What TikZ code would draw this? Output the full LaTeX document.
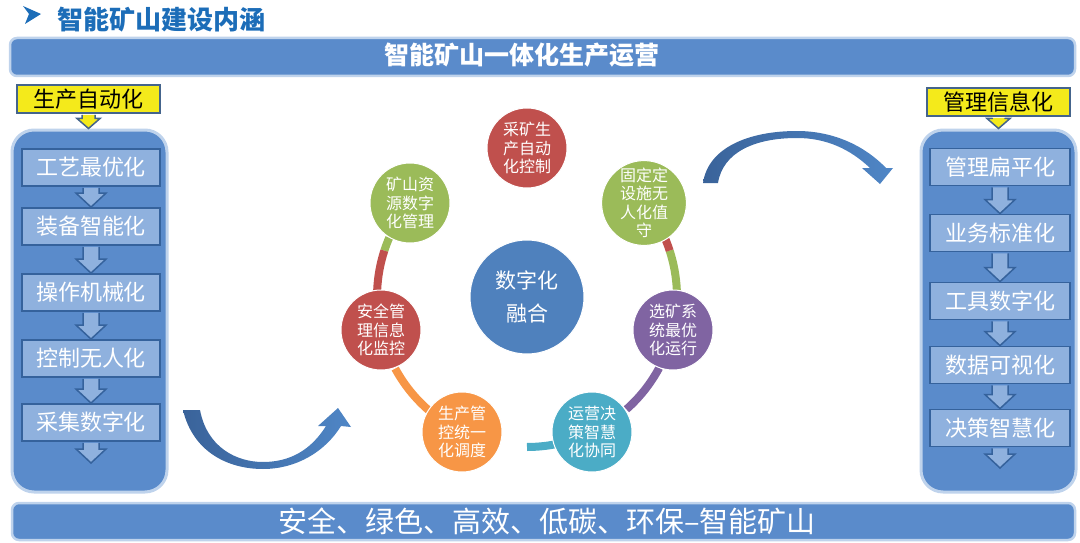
\documentclass[tikz,border=0pt]{standalone}
\usepackage{fontspec}
\setmainfont{Noto Sans CJK SC}
\usetikzlibrary{calc}
\definecolor{titleblue}{HTML}{1C6DB8}
\definecolor{bannerfill}{HTML}{5A8BCB}
\definecolor{bannerline}{HTML}{BFD3EC}
\definecolor{boxfill}{HTML}{8FB1DE}
\definecolor{boxline}{HTML}{35629C}
\definecolor{labelyellow}{HTML}{F4EA1B}
\definecolor{labelline}{HTML}{44648C}
\definecolor{cred}{HTML}{C0504D}
\definecolor{cgreen}{HTML}{9BBB59}
\definecolor{cpurple}{HTML}{8064A2}
\definecolor{cteal}{HTML}{4BACC6}
\definecolor{corange}{HTML}{F79646}
\definecolor{cblue}{HTML}{4F81BD}
\definecolor{arrdark}{HTML}{3A639A}
\definecolor{arrlight}{HTML}{4F86C6}
% #1 top node, #2 tip coordinate, #3 style, #4 shaft half width, #5 head half width, #6 head length
\newcommand\blockarrow[6]{%
  \path[#3] let \p1=(#1.south), \p2=(#2) in
    (\x1-#4pt,\y1-1pt) -- (\x1-#4pt,\y2+#6pt) -- (\x1-#5pt,\y2+#6pt) -- (\x1,\y2)
    -- (\x1+#5pt,\y2+#6pt) -- (\x1+#4pt,\y2+#6pt) -- (\x1+#4pt,\y1-1pt);}
\begin{document}
\begin{tikzpicture}[x=1pt,y=-1pt,
  banner/.style={draw=bannerline, line width=2.5pt, fill=bannerfill, rounded corners=7pt, inner sep=0pt},
  bannertext/.style={text=white, inner sep=0pt},
  panel/.style={draw=bannerline, line width=3pt, fill=bannerfill, rounded corners=22pt, inner sep=0pt, minimum width=155pt, minimum height=362pt},
  stepbox/.style={fill=boxfill, draw=boxline, line width=1.8pt, inner sep=0pt, minimum height=37pt, text=white, font=\fontsize{22}{22}\selectfont},
  ylabel/.style={fill=labelyellow, draw=labelline, line width=2pt, inner sep=0pt, minimum width=143pt, minimum height=28pt, font=\fontsize{22}{22}\selectfont},
  steparrow/.style={fill=boxfill, draw=boxline, line width=1.5pt, line join=miter},
  yarrow/.style={fill=labelyellow, draw=labelline, line width=1.5pt, line join=miter},
  circ/.style={circle, minimum size=80pt, inner sep=0pt, text=white, align=center, draw=white, line width=1pt, font=\fontsize{16}{18.5}\selectfont},
  arcseg/.style={line width=8pt},
  curvearrow/.style={left color=arrdark, right color=arrlight, draw=none}
]
\useasboundingbox (0,0) rectangle (1080,543);

% title
\fill[titleblue] (23,6) -- (41,14) -- (25,24) -- (29,14) -- cycle;
\node[text=titleblue, font=\bfseries\fontsize{26}{26}\selectfont, inner sep=0pt] (title) at (161,20) {智能矿山建设内涵};

% top banner
\node[banner, minimum width=1065pt, minimum height=38pt] (topbanner) at (542.5,57) {};
\node[bannertext, font=\bfseries\fontsize{25}{25}\selectfont] (toptext) at (522,55) {智能矿山一体化生产运营};

% bottom banner
\node[banner, minimum width=1063pt, minimum height=37pt] (botbanner) at (543.5,521.5) {};
\node[bannertext, font=\fontsize{29}{29}\selectfont] (bottext) at (547,521) {安全、绿色、高效、低碳、环保–智能矿山};

% left column
\node[panel] (lpanel) at (89.5,311) {};
\node[ylabel] (llabel) at (88.5,99) {生产自动化};
\blockarrow{llabel}{lpanel.north}{yarrow}{6.5}{11.5}{10}
\node[stepbox, minimum width=138pt] (l1) at (91,167.5) {工艺最优化};
\node[stepbox, minimum width=138pt] (l2) at (91,226.5) {装备智能化};
\node[stepbox, minimum width=138pt] (l3) at (91,292.5) {操作机械化};
\node[stepbox, minimum width=138pt] (l4) at (91,358.5) {控制无人化};
\node[stepbox, minimum width=138pt] (l5) at (91,422.5) {采集数字化};
\coordinate (lend) at (91,463);
\blockarrow{l1}{l2.north}{steparrow}{8}{15}{14}
\blockarrow{l2}{l3.north}{steparrow}{8}{15}{14}
\blockarrow{l3}{l4.north}{steparrow}{8}{15}{14}
\blockarrow{l4}{l5.north}{steparrow}{8}{15}{14}
\blockarrow{l5}{lend}{steparrow}{8}{15}{14}

% right column
\node[panel] (rpanel) at (998.5,311) {};
\node[ylabel] (rlabel) at (998.5,102) {管理信息化};
\blockarrow{rlabel}{rpanel.north}{yarrow}{6.5}{11.5}{10}
\node[stepbox, minimum width=140pt] (r1) at (1000,167) {管理扁平化};
\node[stepbox, minimum width=140pt] (r2) at (1000,233) {业务标准化};
\node[stepbox, minimum width=140pt] (r3) at (1000,301) {工具数字化};
\node[stepbox, minimum width=140pt] (r4) at (1000,365) {数据可视化};
\node[stepbox, minimum width=140pt] (r5) at (1000,428) {决策智慧化};
\coordinate (rend) at (1000,468);
\blockarrow{r1}{r2.north}{steparrow}{8}{15}{14}
\blockarrow{r2}{r3.north}{steparrow}{8}{15}{14}
\blockarrow{r3}{r4.north}{steparrow}{8}{15}{14}
\blockarrow{r4}{r5.north}{steparrow}{8}{15}{14}
\blockarrow{r5}{rend}{steparrow}{8}{15}{14}

% curved arrows
\path[curvearrow] (183,410) .. controls (193,452) and (228,469) .. (263,469)
  .. controls (296,469) and (325,452) .. (341,426) -- (351,427) -- (338,408) -- (318,426) -- (326,426)
  .. controls (311,450) and (290,462) .. (263,462)
  .. controls (236,462) and (207,447) .. (200,410) -- cycle;
\path[curvearrow] (703,183) .. controls (708,148) and (748,131) .. (797,131)
  .. controls (835,131) and (866,147) .. (886,168) -- (893,168) -- (880,184) -- (862,168) -- (870,168)
  .. controls (850,149) and (826,138) .. (797,138)
  .. controls (755,138) and (723,152) .. (718,183) -- cycle;

% cycle
\node[circle, fill=cblue, minimum size=114pt, inner sep=0pt, text=white, align=center, draw=white, line width=1pt, font=\fontsize{21}{33}\selectfont] (hub) at (527,297) {数字化\\融合};
\draw[arcseg, cgreen] ($(hub.center)+(-156.7:150)$) arc[start angle=-156.7, end angle=-162, radius=150];
\draw[arcseg, cred] ($(hub.center)+(-162:150)$) arc[start angle=-162, end angle=-177.6, radius=150];
\draw[arcseg, corange] ($(hub.center)+(-208.5:150)$) arc[start angle=-208.5, end angle=-229, radius=150];
\draw[arcseg, cteal] ($(hub.center)+(-270:150)$) arc[start angle=-270, end angle=-281, radius=150];
\draw[arcseg, cpurple] ($(hub.center)+(-311.5:150)$) arc[start angle=-311.5, end angle=-331.8, radius=150];
\draw[arcseg, cgreen] ($(hub.center)+(-2.4:150)$) arc[start angle=-2.4, end angle=-18, radius=150];
\draw[arcseg, cred] ($(hub.center)+(-18:150)$) arc[start angle=-18, end angle=-23.3, radius=150];

\node[circ, fill=cred] (c1) at (527,148) {采矿生\\产自动\\化控制};
\node[circ, fill=cgreen] (c2) at (644,203) {固定定\\设施无\\人化值\\守};
\node[circ, fill=cpurple] (c3) at (673,330) {选矿系\\统最优\\化运行};
\node[circ, fill=cteal] (c4) at (592,432) {运营决\\策智慧\\化协同};
\node[circ, fill=corange] (c5) at (462,432) {生产管\\控统一\\化调度};
\node[circ, fill=cred] (c6) at (381,330) {安全管\\理信息\\化监控};
\node[circ, fill=cgreen] (c7) at (410,203) {矿山资\\源数字\\化管理};
\end{tikzpicture}
\end{document}
